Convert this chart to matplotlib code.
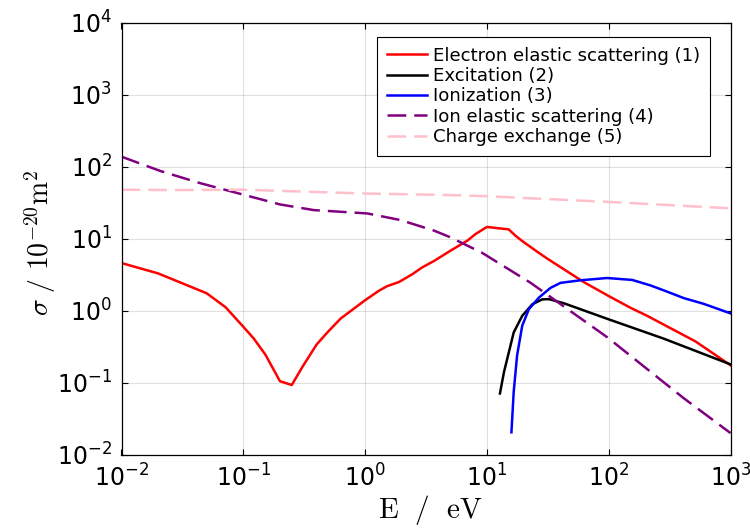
import numpy as np
import matplotlib
matplotlib.use('Agg')
import matplotlib.pyplot as plt
from matplotlib.ticker import LogLocator, NullLocator

# cross sections, sigma in 1e-20 m^2, energies in eV
E_el = [0.01, 0.02, 0.05, 0.0715, 0.1, 0.122, 0.152, 0.2, 0.25, 0.305, 0.4, 0.49,
        0.63, 1.0, 1.3, 1.52, 1.89, 2.43, 2.94, 3.67, 5.0, 6.9, 8.05, 10.0, 15.1,
        17.2, 19.5, 25.9, 31.3, 62.5, 100, 151, 207, 516, 1000]
sig_el = [4.6, 3.3, 1.75, 1.12, 0.6, 0.41, 0.245, 0.105, 0.093, 0.165, 0.34, 0.5,
          0.78, 1.4, 1.9, 2.2, 2.5, 3.2, 4.0, 4.9, 6.8, 9.4, 11.6, 14.6, 13.5,
          11.0, 9.3, 6.6, 5.3, 2.5, 1.6, 1.1, 0.85, 0.375, 0.175]

E_exc = [12.8, 13.8, 16.6, 19.5, 23.6, 28.5, 32.3, 42.9, 100, 283, 1000]
sig_exc = [0.071, 0.14, 0.5, 0.85, 1.23, 1.44, 1.45, 1.27, 0.76, 0.41, 0.18]

E_ion = [15.9, 16.6, 17.7, 19.5, 22.1, 26.7, 33.3, 40.2, 58.6, 97, 156, 220, 300,
         413, 600, 1000]
sig_ion = [0.0205, 0.075, 0.24, 0.62, 1.05, 1.52, 2.08, 2.44, 2.65, 2.85, 2.68,
           2.25, 1.85, 1.5, 1.25, 0.92]

E_ion_el = [0.01, 0.021, 0.0446, 0.1, 0.2, 0.38, 1.04, 1.95, 3.67, 5.0, 9.1,
            22.8, 97, 413, 1000]
sig_ion_el = [138, 87, 59, 41, 30, 25, 22.5, 18.2, 13.0, 10.5, 6.4, 2.45, 0.43,
              0.061, 0.020]

E_cx = [0.01, 0.03, 0.1, 1.0, 5.0, 10.0, 100, 1000]
sig_cx = [48, 47.5, 48, 42.5, 40.5, 39.0, 32.5, 26.5]

fig = plt.figure(figsize=(7.5, 5.3), dpi=100)
ax = fig.add_axes([0.162, 0.142, 0.812, 0.815])

dash = (7.5, 3.2)
ax.plot(E_el, sig_el, color='red', lw=1.8, label='Electron elastic scattering (1)')
ax.plot(E_exc, sig_exc, color='black', lw=1.8, label='Excitation (2)')
ax.plot(E_ion, sig_ion, color='blue', lw=1.8, label='Ionization (3)')
ax.plot(E_ion_el, sig_ion_el, color='purple', lw=1.8, dashes=dash,
        label='Ion elastic scattering (4)')
ax.plot(E_cx, sig_cx, color='pink', lw=1.8, dashes=dash,
        label='Charge exchange (5)')

ax.set_xscale('log')
ax.set_yscale('log')
ax.set_xlim(1e-2, 1e3)
ax.set_ylim(1e-2, 1e4)
ax.xaxis.set_major_locator(LogLocator(base=10, numticks=10))
ax.yaxis.set_major_locator(LogLocator(base=10, numticks=10))
ax.xaxis.set_minor_locator(NullLocator())
ax.yaxis.set_minor_locator(NullLocator())

ax.grid(True, color='black', alpha=0.12, lw=0.8)
ax.tick_params(direction='in', length=4, width=0.8, top=True, right=True,
               labelsize=17, pad=7)
for s in ax.spines.values():
    s.set_linewidth(0.9)

ax.set_xlabel(r'$\mathrm{E}\ \ /\ \ \mathrm{eV}$', fontsize=21,
              math_fontfamily='cm', labelpad=2)
ax.xaxis.set_label_coords(0.508, -0.088)
ax.set_ylabel(r'$\sigma\ /\ 10^{-20}\mathrm{m}^2$', fontsize=20, math_fontfamily='cm')
ax.yaxis.set_label_coords(-0.104, 0.49)

leg = ax.legend(loc='upper right', bbox_to_anchor=(0.966, 0.968), borderaxespad=0,
                fontsize=13.1, frameon=True, fancybox=False, framealpha=1,
                edgecolor='black', handlelength=2.2, handletextpad=0.3,
                labelspacing=0.13, borderpad=0.55)
leg.get_frame().set_linewidth(0.8)

fig.savefig('out.png', dpi=100)
